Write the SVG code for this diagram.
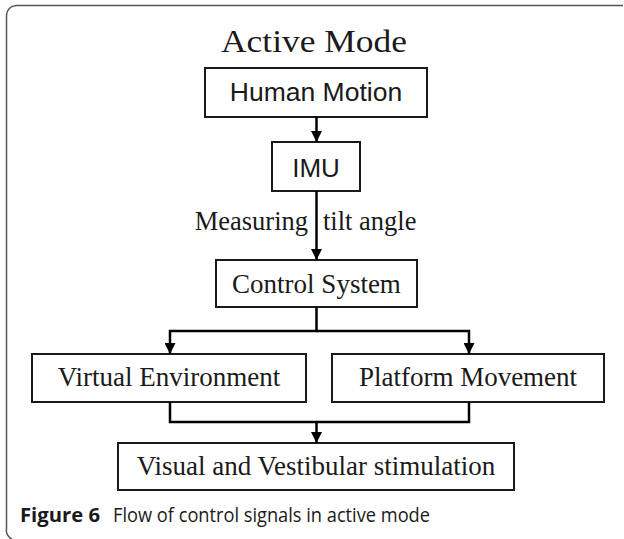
<svg xmlns="http://www.w3.org/2000/svg" width="624" height="539" viewBox="0 0 624 539">
  <style>
    .box { fill: #ffffff; stroke: #1a1a1a; stroke-width: 2; }
    .serif { font-family: "Liberation Serif", "Times New Roman", serif; fill: #1a1a1a; text-anchor: middle; }
    .sans { font-family: "Liberation Sans", Arial, sans-serif; fill: #1a1a1a; text-anchor: middle; }
    .wire { fill: none; stroke: #000000; stroke-width: 2.5; }
    .cap { font-family: "Open Sans", "Noto Sans", sans-serif; font-size: 20px; fill: #1a1a1a; }
  </style>
  <defs>
    <marker id="arrow" viewBox="0 0 10 10" refX="10" refY="5" markerWidth="4.4" markerHeight="4.4" markerUnits="strokeWidth" orient="auto">
      <path d="M0,0 L10,5 L0,10 z" fill="#000000"/>
    </marker>
  </defs>
  <rect width="624" height="539" fill="#ffffff"/>

  <!-- figure frame -->
  <path d="M623 5.5 H16 A10 10 0 0 0 6.5 15.5 V529 A9 9 0 0 0 12 539" fill="none" stroke="#555555" stroke-width="1.5"/>

  <text class="serif" x="314" y="52" font-size="32" textLength="186" lengthAdjust="spacingAndGlyphs">Active Mode</text>

  <g id="human-motion">
    <rect class="box" x="205" y="68" width="222" height="49"/>
    <text class="sans" x="316" y="101" font-size="26.5">Human Motion</text>
  </g>

  <g id="imu">
    <rect class="box" x="272" y="142" width="88" height="49"/>
    <text class="sans" x="316" y="177" font-size="26">IMU</text>
  </g>

  <g id="control-system">
    <rect class="box" x="216" y="260" width="201" height="47"/>
    <text class="serif" x="316.5" y="293" font-size="27">Control System</text>
  </g>

  <g id="virtual-environment">
    <rect class="box" x="32" y="354" width="274" height="48"/>
    <text class="serif" x="169" y="386" font-size="27">Virtual Environment</text>
  </g>

  <g id="platform-movement">
    <rect class="box" x="332" y="354" width="272" height="48"/>
    <text class="serif" x="468" y="386" font-size="27">Platform Movement</text>
  </g>

  <g id="stimulation">
    <rect class="box" x="118" y="443" width="396" height="47"/>
    <text class="serif" x="316" y="475" font-size="27">Visual and Vestibular stimulation</text>
  </g>

  <g id="connectors">
    <line class="wire" x1="316.5" y1="117" x2="316.5" y2="142" marker-end="url(#arrow)"/>
    <line class="wire" x1="316.5" y1="191" x2="316.5" y2="260" marker-end="url(#arrow)"/>
    <text class="serif" x="308" y="230" font-size="26.5" style="text-anchor:end">Measuring</text>
    <text class="serif" x="323" y="230" font-size="26.5" style="text-anchor:start">tilt angle</text>
    <polyline class="wire" points="316.5,307 316.5,331 170,331 170,354" marker-end="url(#arrow)"/>
    <polyline class="wire" points="316.5,331 469,331 469,354" marker-end="url(#arrow)"/>
    <polyline class="wire" points="170,402 170,422 469,422 469,402"/>
    <line class="wire" x1="316.5" y1="422" x2="316.5" y2="443" marker-end="url(#arrow)"/>
  </g>

  <text class="cap" x="20" y="522" font-weight="700" textLength="80" lengthAdjust="spacingAndGlyphs">Figure 6</text>
  <text class="cap" x="113" y="522" textLength="317" lengthAdjust="spacingAndGlyphs">Flow of control signals in active mode</text>
</svg>
